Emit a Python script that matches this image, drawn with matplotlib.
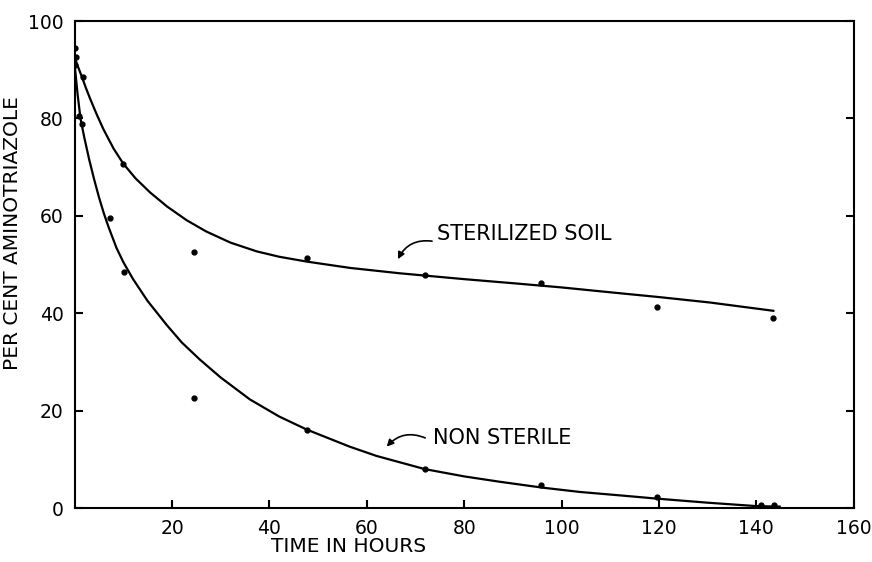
import matplotlib
matplotlib.use("Agg")
import matplotlib.pyplot as plt

# measured points
ster_x = [0, 0, 1.7, 10, 24.5, 47.7, 72, 95.7, 119.6, 143.5]
ster_y = [94.4, 91, 88.5, 70.6, 52.6, 51.3, 47.8, 46.2, 41.2, 39]
non_x = [0.2, 0.9, 1.6, 7.3, 10.1, 24.5, 47.7, 72, 95.7, 119.6, 141, 143.6]
non_y = [92.6, 80.6, 78.8, 59.6, 48.4, 22.5, 16, 8, 4.8, 2.3, 0.6, 0.6]

# hand-drawn fitted curves
ster_cx = [0, 0.7, 1.5, 2.3, 3.2, 4.5, 5.9, 8, 10, 12.5, 15.5, 19, 23, 27, 32,
           37.4, 42, 47.7, 56.6, 66.8, 72.3, 80, 90.8, 100, 110, 120.2, 130.5, 143.5]
ster_cy = [92.5, 90.6, 88.5, 86.3, 84, 80.9, 77.8, 73.8, 70.7, 67.7, 64.8, 61.9,
           59.1, 56.8, 54.5, 52.7, 51.6, 50.6, 49.3, 48.2, 47.7, 47.0, 46.1, 45.3,
           44.3, 43.3, 42.2, 40.5]
non_cx = [0, 0.6, 1.2, 2, 3, 4, 5, 6, 7, 8.6, 10, 12, 15, 18.9, 22, 25.7, 30, 36,
          42, 47.7, 56.5, 62, 71.9, 80, 87.3, 96, 103.8, 112, 120, 130, 140, 144.8]
non_cy = [91, 85, 80, 76, 71.5, 67.5, 63.8, 60.5, 57.6, 53.4, 50.5, 47, 42.5,
          37.6, 34, 30.5, 26.8, 22.3, 18.8, 16.1, 12.6, 10.7, 8, 6.5, 5.4, 4.2,
          3.3, 2.6, 1.9, 1.1, 0.4, 0.3]

xticks = [20, 40, 60, 80, 100, 120, 140, 160]
yticks = [0, 20, 40, 60, 80, 100]

plt.rcParams['font.family'] = 'DejaVu Sans'

fig = plt.figure(figsize=(8.72, 5.62), dpi=100)
ax = fig.add_axes([0.0856, 0.096, 0.8934, 0.8666])

ax.plot(ster_cx, ster_cy, color='black', lw=1.6)
ax.plot(non_cx, non_cy, color='black', lw=1.6)
ax.plot(ster_x, ster_y, 'o', color='black', ms=3.5)
ax.plot(non_x, non_y, 'o', color='black', ms=3.5)

ax.set_xlim(0, 160)
ax.set_ylim(0, 100)
ax.set_xticks(xticks)
ax.set_yticks(yticks)
ax.tick_params(direction='in', length=6, width=1.5, labelsize=13.5, pad=8)
ax.tick_params(axis='y', right=True)
for s in ax.spines.values():
    s.set_linewidth(1.5)

ax.set_xlabel('TIME IN HOURS', fontsize=14.5)
ax.set_ylabel('PER CENT AMINOTRIAZOLE', fontsize=14.5)
ax.xaxis.set_label_coords(0.351, -0.06)
ax.yaxis.set_label_coords(-0.0675, 0.564)

ax.text(74.4, 56.3, 'STERILIZED SOIL', fontsize=15, va='center', ha='left')
ax.annotate('', xy=(66.4, 51.1), xytext=(73.4, 54.8),
            arrowprops=dict(arrowstyle='-|>', color='black', lw=1.2,
                            connectionstyle='arc3,rad=0.35', shrinkA=0, shrinkB=0))
ax.text(73.6, 14.4, 'NON STERILE', fontsize=15, va='center', ha='left')
ax.annotate('', xy=(64.1, 12.6), xytext=(72.0, 14.4),
            arrowprops=dict(arrowstyle='-|>', color='black', lw=1.2,
                            connectionstyle='arc3,rad=0.35', shrinkA=0, shrinkB=0))

fig.savefig('out.png', dpi=100)
